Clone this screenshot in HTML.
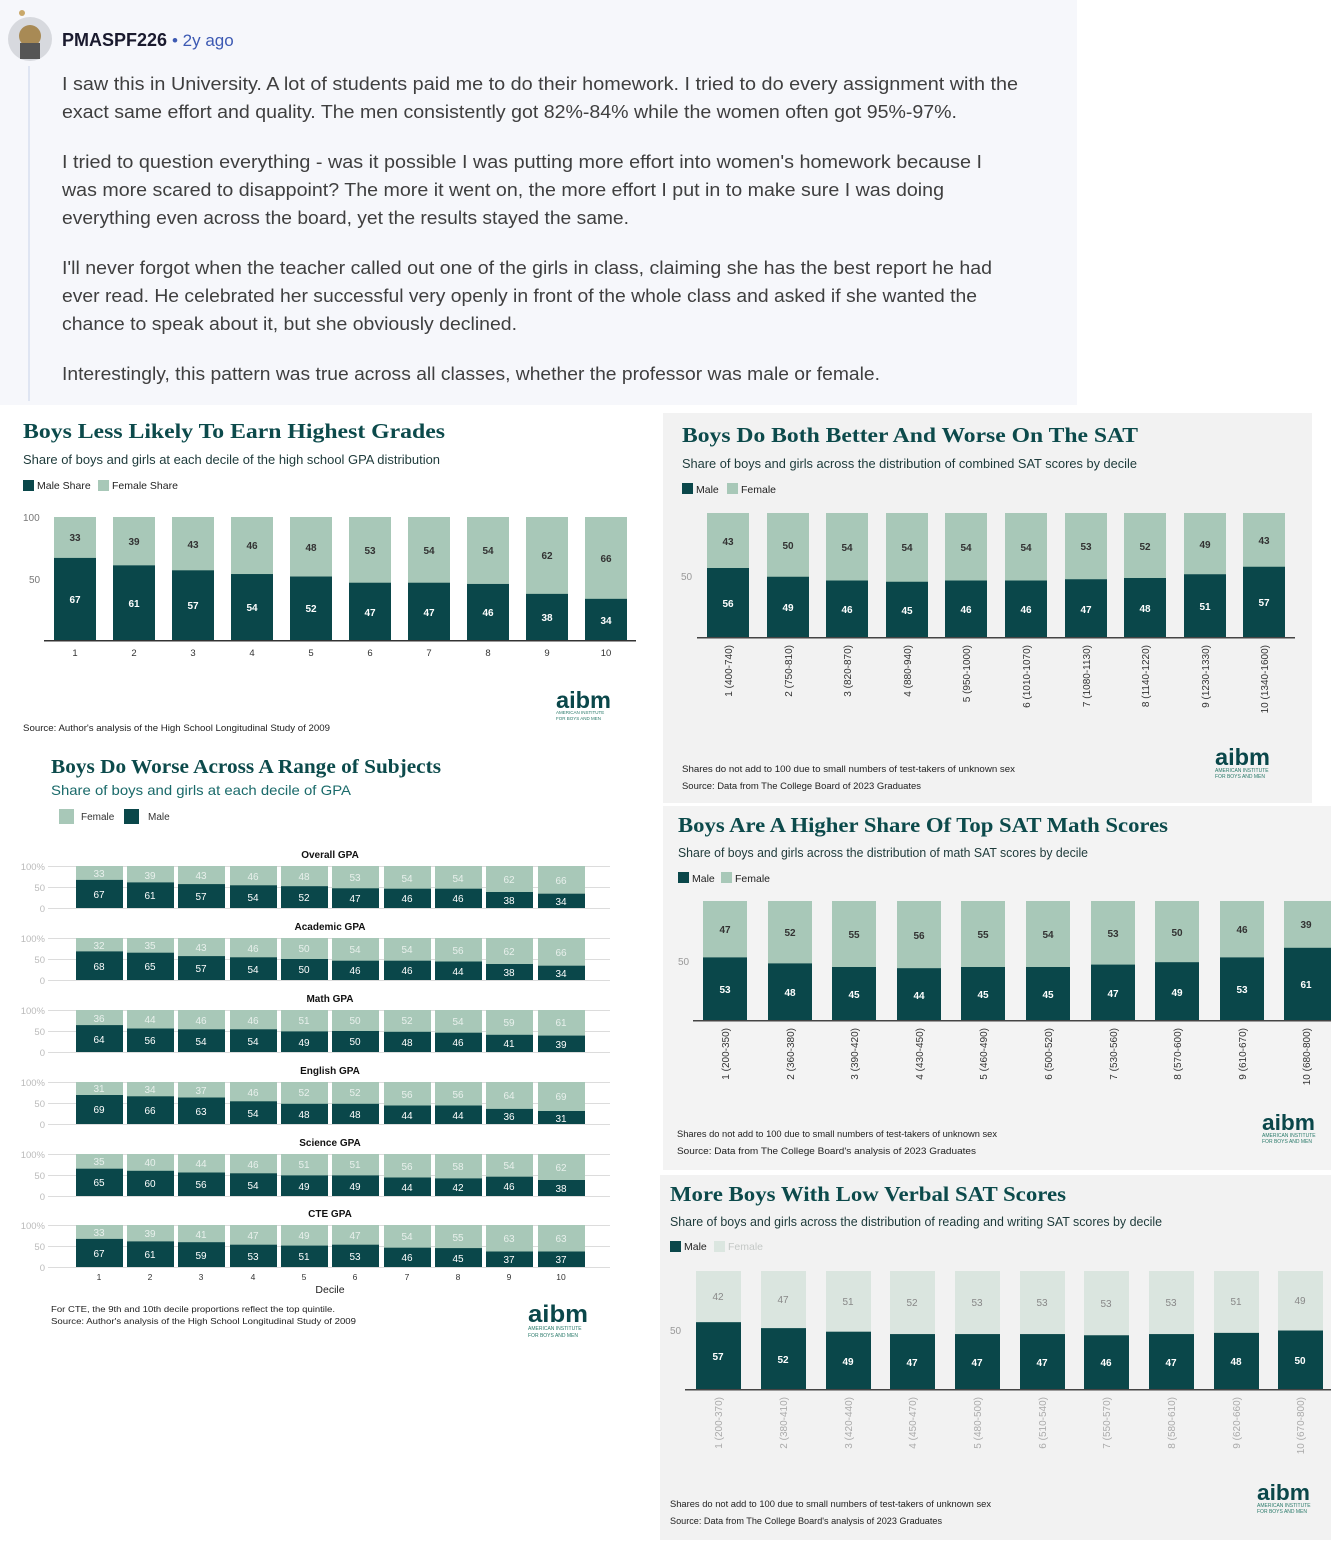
<!DOCTYPE html>
<html><head><meta charset="utf-8"><style>
html,body{margin:0;padding:0;background:#fff}
svg{display:block}
.s{font-family:"Liberation Sans",sans-serif}
.t{font-family:"Liberation Serif",serif;font-weight:bold;fill:#0c4a4b}
.w{fill:#fff}
</style></head><body>
<svg width="1331" height="1545" viewBox="0 0 1331 1545" xmlns="http://www.w3.org/2000/svg" class="s">
<rect x="0" y="0" width="1077" height="405" fill="#f6f7fb"/>
<circle cx="30" cy="39" r="22" fill="#d7d9de"/>
<circle cx="30" cy="36" r="11" fill="#a88a55"/>
<rect x="20" y="43" width="20" height="16" fill="#555"/>
<circle cx="22" cy="13" r="3" fill="#c9a86a"/>
<rect x="28" y="66" width="2" height="335" fill="#dfe5f2"/>
<text x="62" y="46" font-size="18" font-weight="bold" fill="#1a1a2e">PMASPF226</text>
<text x="172" y="46" font-size="17" fill="#3d5ab3">• 2y ago</text>
<g font-size="18.5" fill="#3f3f3f">
<text x="62" y="90" textLength="956" lengthAdjust="spacingAndGlyphs">I saw this in University. A lot of students paid me to do their homework. I tried to do every assignment with the</text>
<text x="62" y="118" textLength="895" lengthAdjust="spacingAndGlyphs">exact same effort and quality. The men consistently got 82%-84% while the women often got 95%-97%.</text>
<text x="62" y="168" textLength="920" lengthAdjust="spacingAndGlyphs">I tried to question everything - was it possible I was putting more effort into women's homework because I</text>
<text x="62" y="196" textLength="882" lengthAdjust="spacingAndGlyphs">was more scared to disappoint? The more it went on, the more effort I put in to make sure I was doing</text>
<text x="62" y="224" textLength="567" lengthAdjust="spacingAndGlyphs">everything even across the board, yet the results stayed the same.</text>
<text x="62" y="274" textLength="930" lengthAdjust="spacingAndGlyphs">I'll never forgot when the teacher called out one of the girls in class, claiming she has the best report he had</text>
<text x="62" y="302" textLength="915" lengthAdjust="spacingAndGlyphs">ever read. He celebrated her successful very openly in front of the whole class and asked if she wanted the</text>
<text x="62" y="330" textLength="455" lengthAdjust="spacingAndGlyphs">chance to speak about it, but she obviously declined.</text>
<text x="62" y="380" textLength="818" lengthAdjust="spacingAndGlyphs">Interestingly, this pattern was true across all classes, whether the professor was male or female.</text>
</g>

<text x="23" y="438" class="t" font-size="21" textLength="422" lengthAdjust="spacingAndGlyphs">Boys Less Likely To Earn Highest Grades</text>
<text x="23" y="464" font-size="12.5" fill="#1d3a3a" textLength="417" lengthAdjust="spacingAndGlyphs">Share of boys and girls at each decile of the high school GPA distribution</text>
<rect x="23" y="480" width="11" height="11" fill="#0a474a"/><text x="37" y="489" font-size="10.5" fill="#222">Male Share</text>
<rect x="98" y="480" width="11" height="11" fill="#a8c8b8"/><text x="112" y="489" font-size="10.5" fill="#222">Female Share</text>
<text x="23" y="521" font-size="10" fill="#777">100</text>
<text x="29" y="583" font-size="10" fill="#777">50</text>
<g transform="translate(0,641) scale(1,-1.24)">
<g fill="#a8c8b8"><rect x="54" y="0" width="42" height="100"/><rect x="113" y="0" width="42" height="100"/><rect x="172" y="0" width="42" height="100"/><rect x="231" y="0" width="42" height="100"/><rect x="290" y="0" width="42" height="100"/><rect x="349" y="0" width="42" height="100"/><rect x="408" y="0" width="42" height="100"/><rect x="467" y="0" width="42" height="100"/><rect x="526" y="0" width="42" height="100"/><rect x="585" y="0" width="42" height="100"/></g>
<g fill="#0a474a"><rect x="54" y="0" width="42" height="67"/><rect x="113" y="0" width="42" height="61"/><rect x="172" y="0" width="42" height="57"/><rect x="231" y="0" width="42" height="54"/><rect x="290" y="0" width="42" height="52"/><rect x="349" y="0" width="42" height="47"/><rect x="408" y="0" width="42" height="47"/><rect x="467" y="0" width="42" height="46"/><rect x="526" y="0" width="42" height="38"/><rect x="585" y="0" width="42" height="34"/></g>
</g>
<rect x="44" y="640" width="592" height="1.5" fill="#333"/>
<g font-size="10" font-weight="bold" text-anchor="middle" fill="#333">
<text x="75" y="541">33</text><text x="134" y="545">39</text><text x="193" y="548">43</text><text x="252" y="549">46</text><text x="311" y="551">48</text><text x="370" y="554">53</text><text x="429" y="554">54</text><text x="488" y="554">54</text><text x="547" y="559">62</text><text x="606" y="562">66</text>
</g>
<g font-size="10" font-weight="bold" text-anchor="middle" class="w">
<text x="75" y="603">67</text><text x="134" y="607">61</text><text x="193" y="609">57</text><text x="252" y="611">54</text><text x="311" y="612">52</text><text x="370" y="616">47</text><text x="429" y="616">47</text><text x="488" y="616">46</text><text x="547" y="621">38</text><text x="606" y="624">34</text>
</g>
<g font-size="9.5" text-anchor="middle" fill="#333">
<text x="75" y="656">1</text><text x="134" y="656">2</text><text x="193" y="656">3</text><text x="252" y="656">4</text><text x="311" y="656">5</text><text x="370" y="656">6</text><text x="429" y="656">7</text><text x="488" y="656">8</text><text x="547" y="656">9</text><text x="606" y="656">10</text>
</g>
<g transform="translate(556,708)"><text x="0" y="0" font-size="23" font-weight="bold" fill="#0a474a" textLength="55" lengthAdjust="spacingAndGlyphs">aibm</text><text x="0" y="6" font-size="4.5" fill="#2a7a6a">AMERICAN INSTITUTE</text><text x="0" y="12" font-size="4.5" fill="#2a7a6a">FOR BOYS AND MEN</text></g>
<text x="23" y="731" font-size="9" fill="#222" textLength="307" lengthAdjust="spacingAndGlyphs">Source: Author's analysis of the High School Longitudinal Study of 2009</text>

<text x="51" y="773" class="t" font-size="20" textLength="390" lengthAdjust="spacingAndGlyphs">Boys Do Worse Across A Range of Subjects</text>
<text x="51" y="795" font-size="14" fill="#1a6a6a" textLength="300" lengthAdjust="spacingAndGlyphs">Share of boys and girls at each decile of GPA</text>
<rect x="59" y="809" width="15" height="15" fill="#a8c8b8"/><text x="81" y="820" font-size="10" fill="#333">Female</text>
<rect x="124" y="809" width="15" height="15" fill="#0a474a"/><text x="148" y="820" font-size="10" fill="#333">Male</text>

<defs>
<g id="grid">
<rect x="48" y="0" width="562" height="1" fill="#dcdcdc"/><rect x="48" y="21" width="562" height="1" fill="#dcdcdc"/><rect x="48" y="42" width="562" height="1" fill="#dcdcdc"/>
<g fill="#a8c8b8"><rect x="76" y="0" width="47" height="42"/><rect x="127" y="0" width="47" height="42"/><rect x="178" y="0" width="47" height="42"/><rect x="230" y="0" width="47" height="42"/><rect x="281" y="0" width="47" height="42"/><rect x="332" y="0" width="47" height="42"/><rect x="384" y="0" width="47" height="42"/><rect x="435" y="0" width="47" height="42"/><rect x="486" y="0" width="47" height="42"/><rect x="538" y="0" width="47" height="42"/></g>
<g font-size="9.5" fill="#bbb" text-anchor="end"><text x="45" y="4">100%</text><text x="45" y="25">50</text><text x="45" y="46">0</text></g>
</g>
</defs>

<g transform="translate(0,866)">
<use href="#grid"/>
<text x="330" y="-8" font-size="10" font-weight="bold" text-anchor="middle" fill="#111">Overall GPA</text>
<g fill="#0a474a"><rect x="76" y="13.9" width="47" height="28.1"/><rect x="127" y="16.4" width="47" height="25.6"/><rect x="178" y="18.1" width="47" height="23.9"/><rect x="230" y="19.3" width="47" height="22.7"/><rect x="281" y="20.2" width="47" height="21.8"/><rect x="332" y="22.3" width="47" height="19.7"/><rect x="384" y="22.7" width="47" height="19.3"/><rect x="435" y="22.7" width="47" height="19.3"/><rect x="486" y="26" width="47" height="16"/><rect x="538" y="27.7" width="47" height="14.3"/></g>
<g font-size="10" text-anchor="middle" fill="#e8f0ec"><text x="99" y="11">33</text><text x="150" y="13">39</text><text x="201" y="13">43</text><text x="253" y="14">46</text><text x="304" y="14">48</text><text x="355" y="15">53</text><text x="407" y="16">54</text><text x="458" y="16">54</text><text x="509" y="17">62</text><text x="561" y="18">66</text></g>
<g font-size="10" text-anchor="middle" class="w"><text x="99" y="32">67</text><text x="150" y="33">61</text><text x="201" y="34">57</text><text x="253" y="35">54</text><text x="304" y="35">52</text><text x="355" y="36">47</text><text x="407" y="36">46</text><text x="458" y="36">46</text><text x="509" y="38">38</text><text x="561" y="39">34</text></g>
</g>
<g transform="translate(0,938)">
<use href="#grid"/>
<text x="330" y="-8" font-size="10" font-weight="bold" text-anchor="middle" fill="#111">Academic GPA</text>
<g fill="#0a474a"><rect x="76" y="13.4" width="47" height="28.6"/><rect x="127" y="14.7" width="47" height="27.3"/><rect x="178" y="18.1" width="47" height="23.9"/><rect x="230" y="19.3" width="47" height="22.7"/><rect x="281" y="21" width="47" height="21"/><rect x="332" y="22.7" width="47" height="19.3"/><rect x="384" y="22.7" width="47" height="19.3"/><rect x="435" y="23.5" width="47" height="18.5"/><rect x="486" y="26" width="47" height="16"/><rect x="538" y="27.7" width="47" height="14.3"/></g>
<g font-size="10" text-anchor="middle" fill="#e8f0ec"><text x="99" y="11">32</text><text x="150" y="11">35</text><text x="201" y="13">43</text><text x="253" y="14">46</text><text x="304" y="14">50</text><text x="355" y="15">54</text><text x="407" y="15">54</text><text x="458" y="16">56</text><text x="509" y="17">62</text><text x="561" y="18">66</text></g>
<g font-size="10" text-anchor="middle" class="w"><text x="99" y="32">68</text><text x="150" y="32">65</text><text x="201" y="34">57</text><text x="253" y="35">54</text><text x="304" y="35">50</text><text x="355" y="36">46</text><text x="407" y="36">46</text><text x="458" y="37">44</text><text x="509" y="38">38</text><text x="561" y="39">34</text></g>
</g>
<g transform="translate(0,1010)">
<use href="#grid"/>
<text x="330" y="-8" font-size="10" font-weight="bold" text-anchor="middle" fill="#111">Math GPA</text>
<g fill="#0a474a"><rect x="76" y="15.1" width="47" height="26.9"/><rect x="127" y="18.5" width="47" height="23.5"/><rect x="178" y="19.3" width="47" height="22.7"/><rect x="230" y="19.3" width="47" height="22.7"/><rect x="281" y="21.4" width="47" height="20.6"/><rect x="332" y="21" width="47" height="21"/><rect x="384" y="21.8" width="47" height="20.2"/><rect x="435" y="22.7" width="47" height="19.3"/><rect x="486" y="24.8" width="47" height="17.2"/><rect x="538" y="25.6" width="47" height="16.4"/></g>
<g font-size="10" text-anchor="middle" fill="#e8f0ec"><text x="99" y="12">36</text><text x="150" y="13">44</text><text x="201" y="14">46</text><text x="253" y="14">46</text><text x="304" y="14">51</text><text x="355" y="14">50</text><text x="407" y="14">52</text><text x="458" y="15">54</text><text x="509" y="16">59</text><text x="561" y="16">61</text></g>
<g font-size="10" text-anchor="middle" class="w"><text x="99" y="33">64</text><text x="150" y="34">56</text><text x="201" y="35">54</text><text x="253" y="35">54</text><text x="304" y="36">49</text><text x="355" y="35">50</text><text x="407" y="36">48</text><text x="458" y="36">46</text><text x="509" y="37">41</text><text x="561" y="38">39</text></g>
</g>
<g transform="translate(0,1082)">
<use href="#grid"/>
<text x="330" y="-8" font-size="10" font-weight="bold" text-anchor="middle" fill="#111">English GPA</text>
<g fill="#0a474a"><rect x="76" y="13" width="47" height="29"/><rect x="127" y="14.3" width="47" height="27.7"/><rect x="178" y="15.5" width="47" height="26.5"/><rect x="230" y="19.3" width="47" height="22.7"/><rect x="281" y="21.8" width="47" height="20.2"/><rect x="332" y="21.8" width="47" height="20.2"/><rect x="384" y="23.5" width="47" height="18.5"/><rect x="435" y="23.5" width="47" height="18.5"/><rect x="486" y="26.9" width="47" height="15.1"/><rect x="538" y="29" width="47" height="13"/></g>
<g font-size="10" text-anchor="middle" fill="#e8f0ec"><text x="99" y="10">31</text><text x="150" y="11">34</text><text x="201" y="12">37</text><text x="253" y="14">46</text><text x="304" y="14">52</text><text x="355" y="14">52</text><text x="407" y="16">56</text><text x="458" y="16">56</text><text x="509" y="17">64</text><text x="561" y="18">69</text></g>
<g font-size="10" text-anchor="middle" class="w"><text x="99" y="31">69</text><text x="150" y="32">66</text><text x="201" y="33">63</text><text x="253" y="35">54</text><text x="304" y="36">48</text><text x="355" y="36">48</text><text x="407" y="37">44</text><text x="458" y="37">44</text><text x="509" y="38">36</text><text x="561" y="40">31</text></g>
</g>
<g transform="translate(0,1154)">
<use href="#grid"/>
<text x="330" y="-8" font-size="10" font-weight="bold" text-anchor="middle" fill="#111">Science GPA</text>
<g fill="#0a474a"><rect x="76" y="14.7" width="47" height="27.3"/><rect x="127" y="16.8" width="47" height="25.2"/><rect x="178" y="18.5" width="47" height="23.5"/><rect x="230" y="19.3" width="47" height="22.7"/><rect x="281" y="21.4" width="47" height="20.6"/><rect x="332" y="21.4" width="47" height="20.6"/><rect x="384" y="23.5" width="47" height="18.5"/><rect x="435" y="24.4" width="47" height="17.6"/><rect x="486" y="22.7" width="47" height="19.3"/><rect x="538" y="26" width="47" height="16"/></g>
<g font-size="10" text-anchor="middle" fill="#e8f0ec"><text x="99" y="11">35</text><text x="150" y="12">40</text><text x="201" y="13">44</text><text x="253" y="14">46</text><text x="304" y="14">51</text><text x="355" y="14">51</text><text x="407" y="16">56</text><text x="458" y="16">58</text><text x="509" y="15">54</text><text x="561" y="17">62</text></g>
<g font-size="10" text-anchor="middle" class="w"><text x="99" y="32">65</text><text x="150" y="33">60</text><text x="201" y="34">56</text><text x="253" y="35">54</text><text x="304" y="36">49</text><text x="355" y="36">49</text><text x="407" y="37">44</text><text x="458" y="37">42</text><text x="509" y="36">46</text><text x="561" y="38">38</text></g>
</g>
<g transform="translate(0,1225)">
<use href="#grid"/>
<text x="330" y="-8" font-size="10" font-weight="bold" text-anchor="middle" fill="#111">CTE GPA</text>
<g fill="#0a474a"><rect x="76" y="13.9" width="47" height="28.1"/><rect x="127" y="16.4" width="47" height="25.6"/><rect x="178" y="17.2" width="47" height="24.8"/><rect x="230" y="19.7" width="47" height="22.3"/><rect x="281" y="20.6" width="47" height="21.4"/><rect x="332" y="19.7" width="47" height="22.3"/><rect x="384" y="22.7" width="47" height="19.3"/><rect x="435" y="23.1" width="47" height="18.9"/><rect x="486" y="26.5" width="47" height="15.5"/><rect x="538" y="26.5" width="47" height="15.5"/></g>
<g font-size="10" text-anchor="middle" fill="#e8f0ec"><text x="99" y="11">33</text><text x="150" y="12">39</text><text x="201" y="13">41</text><text x="253" y="14">47</text><text x="304" y="14">49</text><text x="355" y="14">47</text><text x="407" y="15">54</text><text x="458" y="16">55</text><text x="509" y="17">63</text><text x="561" y="17">63</text></g>
<g font-size="10" text-anchor="middle" class="w"><text x="99" y="32">67</text><text x="150" y="33">61</text><text x="201" y="34">59</text><text x="253" y="35">53</text><text x="304" y="35">51</text><text x="355" y="35">53</text><text x="407" y="36">46</text><text x="458" y="37">45</text><text x="509" y="38">37</text><text x="561" y="38">37</text></g>
</g>
<g font-size="8.5" text-anchor="middle" fill="#333">
<text x="99" y="1280">1</text><text x="150" y="1280">2</text><text x="201" y="1280">3</text><text x="253" y="1280">4</text><text x="304" y="1280">5</text><text x="355" y="1280">6</text><text x="407" y="1280">7</text><text x="458" y="1280">8</text><text x="509" y="1280">9</text><text x="561" y="1280">10</text>
</g>
<text x="330" y="1293" font-size="10.5" text-anchor="middle" fill="#222">Decile</text>
<text x="51" y="1312" font-size="8.5" fill="#222" textLength="284" lengthAdjust="spacingAndGlyphs">For CTE, the 9th and 10th decile proportions reflect the top quintile.</text>
<text x="51" y="1324" font-size="8.5" fill="#222" textLength="305" lengthAdjust="spacingAndGlyphs">Source: Author's analysis of the High School Longitudinal Study of 2009</text>
<g transform="translate(528,1322)"><text x="0" y="0" font-size="24" font-weight="bold" fill="#0a474a" textLength="60" lengthAdjust="spacingAndGlyphs">aibm</text><text x="0" y="8" font-size="5" fill="#2a7a6a">AMERICAN INSTITUTE</text><text x="0" y="15" font-size="5" fill="#2a7a6a">FOR BOYS AND MEN</text></g>

<rect x="663" y="413" width="649" height="390" fill="#f2f2f2"/>
<text x="682" y="442" class="t" font-size="21" textLength="456" lengthAdjust="spacingAndGlyphs">Boys Do Both Better And Worse On The SAT</text>
<text x="682" y="468" font-size="12.5" fill="#1d3a3a" textLength="455" lengthAdjust="spacingAndGlyphs">Share of boys and girls across the distribution of combined SAT scores by decile</text>
<rect x="682" y="483" width="11" height="11" fill="#0a474a"/><text x="696" y="493" font-size="10.5" fill="#222">Male</text>
<rect x="727" y="483" width="11" height="11" fill="#a8c8b8"/><text x="741" y="493" font-size="10.5" fill="#222">Female</text>
<text x="681" y="580" font-size="10" fill="#999">50</text>
<g transform="translate(0,638) scale(1,-1.25)">
<g fill="#a8c8b8"><rect x="707" y="0" width="42" height="100"/><rect x="767" y="0" width="42" height="100"/><rect x="826" y="0" width="42" height="100"/><rect x="886" y="0" width="42" height="100"/><rect x="945" y="0" width="42" height="100"/><rect x="1005" y="0" width="42" height="100"/><rect x="1065" y="0" width="42" height="100"/><rect x="1124" y="0" width="42" height="100"/><rect x="1184" y="0" width="42" height="100"/><rect x="1243" y="0" width="42" height="100"/></g>
<g fill="#0a474a"><rect x="707" y="0" width="42" height="56"/><rect x="767" y="0" width="42" height="49"/><rect x="826" y="0" width="42" height="46"/><rect x="886" y="0" width="42" height="45"/><rect x="945" y="0" width="42" height="46"/><rect x="1005" y="0" width="42" height="46"/><rect x="1065" y="0" width="42" height="47"/><rect x="1124" y="0" width="42" height="48"/><rect x="1184" y="0" width="42" height="51"/><rect x="1243" y="0" width="42" height="57"/></g>
</g>
<rect x="697" y="637" width="598" height="1.5" fill="#444"/>
<g font-size="10" font-weight="bold" text-anchor="middle" fill="#333">
<text x="728" y="545">43</text><text x="788" y="549">50</text><text x="847" y="551">54</text><text x="907" y="551">54</text><text x="966" y="551">54</text><text x="1026" y="551">54</text><text x="1086" y="550">53</text><text x="1145" y="550">52</text><text x="1205" y="548">49</text><text x="1264" y="544">43</text>
</g>
<g font-size="10" font-weight="bold" text-anchor="middle" class="w">
<text x="728" y="607">56</text><text x="788" y="611">49</text><text x="847" y="613">46</text><text x="907" y="614">45</text><text x="966" y="613">46</text><text x="1026" y="613">46</text><text x="1086" y="613">47</text><text x="1145" y="612">48</text><text x="1205" y="610">51</text><text x="1264" y="606">57</text>
</g>
<g font-size="10" fill="#333" text-anchor="end">
<text transform="translate(732,645) rotate(-90)">1 (400-740)</text><text transform="translate(792,645) rotate(-90)">2 (750-810)</text><text transform="translate(851,645) rotate(-90)">3 (820-870)</text><text transform="translate(911,645) rotate(-90)">4 (880-940)</text><text transform="translate(970,645) rotate(-90)">5 (950-1000)</text><text transform="translate(1030,645) rotate(-90)">6 (1010-1070)</text><text transform="translate(1090,645) rotate(-90)">7 (1080-1130)</text><text transform="translate(1149,645) rotate(-90)">8 (1140-1220)</text><text transform="translate(1209,645) rotate(-90)">9 (1230-1330)</text><text transform="translate(1268,645) rotate(-90)">10 (1340-1600)</text>
</g>
<text x="682" y="772" font-size="9" fill="#222" textLength="333" lengthAdjust="spacingAndGlyphs">Shares do not add to 100 due to small numbers of test-takers of unknown sex</text>
<text x="682" y="789" font-size="9" fill="#222" textLength="239" lengthAdjust="spacingAndGlyphs">Source: Data from The College Board of 2023 Graduates</text>
<g transform="translate(1215,765)"><text x="0" y="0" font-size="23" font-weight="bold" fill="#0a474a" textLength="55" lengthAdjust="spacingAndGlyphs">aibm</text><text x="0" y="7" font-size="5" fill="#2a7a6a">AMERICAN INSTITUTE</text><text x="0" y="13" font-size="5" fill="#2a7a6a">FOR BOYS AND MEN</text></g>

<rect x="663" y="806" width="668" height="364" fill="#f3f3f3"/>
<text x="678" y="832" class="t" font-size="21" textLength="490" lengthAdjust="spacingAndGlyphs">Boys Are A Higher Share Of Top SAT Math Scores</text>
<text x="678" y="857" font-size="12.5" fill="#1d3a3a" textLength="410" lengthAdjust="spacingAndGlyphs">Share of boys and girls across the distribution of math SAT scores by decile</text>
<rect x="678" y="872" width="11" height="11" fill="#0a474a"/><text x="692" y="882" font-size="10.5" fill="#222">Male</text>
<rect x="721" y="872" width="11" height="11" fill="#a8c8b8"/><text x="735" y="882" font-size="10.5" fill="#222">Female</text>
<text x="678" y="965" font-size="10" fill="#999">50</text>
<g transform="translate(0,1021) scale(1,-1.2)">
<g fill="#a8c8b8"><rect x="703" y="0" width="44" height="100"/><rect x="768" y="0" width="44" height="100"/><rect x="832" y="0" width="44" height="100"/><rect x="897" y="0" width="44" height="100"/><rect x="961" y="0" width="44" height="100"/><rect x="1026" y="0" width="44" height="100"/><rect x="1091" y="0" width="44" height="100"/><rect x="1155" y="0" width="44" height="100"/><rect x="1220" y="0" width="44" height="100"/><rect x="1284" y="0" width="47" height="100"/></g>
<g fill="#0a474a"><rect x="703" y="0" width="44" height="53"/><rect x="768" y="0" width="44" height="48"/><rect x="832" y="0" width="44" height="45"/><rect x="897" y="0" width="44" height="44"/><rect x="961" y="0" width="44" height="45"/><rect x="1026" y="0" width="44" height="45"/><rect x="1091" y="0" width="44" height="47"/><rect x="1155" y="0" width="44" height="49"/><rect x="1220" y="0" width="44" height="53"/><rect x="1284" y="0" width="47" height="61"/></g>
</g>
<rect x="693" y="1020" width="638" height="1.5" fill="#444"/>
<g font-size="10" font-weight="bold" text-anchor="middle" fill="#333">
<text x="725" y="933">47</text><text x="790" y="936">52</text><text x="854" y="938">55</text><text x="919" y="939">56</text><text x="983" y="938">55</text><text x="1048" y="938">54</text><text x="1113" y="937">53</text><text x="1177" y="936">50</text><text x="1242" y="933">46</text><text x="1306" y="928">39</text>
</g>
<g font-size="10" font-weight="bold" text-anchor="middle" class="w">
<text x="725" y="993">53</text><text x="790" y="996">48</text><text x="854" y="998">45</text><text x="919" y="999">44</text><text x="983" y="998">45</text><text x="1048" y="998">45</text><text x="1113" y="997">47</text><text x="1177" y="996">49</text><text x="1242" y="993">53</text><text x="1306" y="988">61</text>
</g>
<g font-size="10" fill="#333" text-anchor="end">
<text transform="translate(729,1028) rotate(-90)">1 (200-350)</text><text transform="translate(794,1028) rotate(-90)">2 (360-380)</text><text transform="translate(858,1028) rotate(-90)">3 (390-420)</text><text transform="translate(923,1028) rotate(-90)">4 (430-450)</text><text transform="translate(987,1028) rotate(-90)">5 (460-490)</text><text transform="translate(1052,1028) rotate(-90)">6 (500-520)</text><text transform="translate(1117,1028) rotate(-90)">7 (530-560)</text><text transform="translate(1181,1028) rotate(-90)">8 (570-600)</text><text transform="translate(1246,1028) rotate(-90)">9 (610-670)</text><text transform="translate(1310,1028) rotate(-90)">10 (680-800)</text>
</g>
<text x="677" y="1137" font-size="9" fill="#222" textLength="320" lengthAdjust="spacingAndGlyphs">Shares do not add to 100 due to small numbers of test-takers of unknown sex</text>
<text x="677" y="1154" font-size="9" fill="#222" textLength="299" lengthAdjust="spacingAndGlyphs">Source: Data from The College Board's analysis of 2023 Graduates</text>
<g transform="translate(1262,1130)"><text x="0" y="0" font-size="22" font-weight="bold" fill="#0a474a" textLength="53" lengthAdjust="spacingAndGlyphs">aibm</text><text x="0" y="7" font-size="5" fill="#2a7a6a">AMERICAN INSTITUTE</text><text x="0" y="13" font-size="5" fill="#2a7a6a">FOR BOYS AND MEN</text></g>

<rect x="660" y="1175" width="671" height="365" fill="#f2f2f2"/>
<text x="670" y="1201" class="t" font-size="21" textLength="396" lengthAdjust="spacingAndGlyphs">More Boys With Low Verbal SAT Scores</text>
<text x="670" y="1226" font-size="12.5" fill="#1d3a3a" textLength="492" lengthAdjust="spacingAndGlyphs">Share of boys and girls across the distribution of reading and writing SAT scores by decile</text>
<rect x="670" y="1241" width="11" height="11" fill="#0a474a"/><text x="684" y="1250" font-size="10.5" fill="#222">Male</text>
<rect x="714" y="1241" width="11" height="11" fill="#dbe6e0"/><text x="728" y="1250" font-size="10.5" fill="#c4c8c6">Female</text>
<text x="670" y="1334" font-size="10" fill="#999">50</text>
<g transform="translate(0,1390) scale(1,-1.19)">
<g fill="#dae5df"><rect x="696" y="0" width="45" height="100"/><rect x="761" y="0" width="45" height="100"/><rect x="826" y="0" width="45" height="100"/><rect x="890" y="0" width="45" height="100"/><rect x="955" y="0" width="45" height="100"/><rect x="1020" y="0" width="45" height="100"/><rect x="1084" y="0" width="45" height="100"/><rect x="1149" y="0" width="45" height="100"/><rect x="1214" y="0" width="45" height="100"/><rect x="1278" y="0" width="45" height="100"/></g>
<g fill="#0a474a"><rect x="696" y="0" width="45" height="57"/><rect x="761" y="0" width="45" height="52"/><rect x="826" y="0" width="45" height="49"/><rect x="890" y="0" width="45" height="47"/><rect x="955" y="0" width="45" height="47"/><rect x="1020" y="0" width="45" height="47"/><rect x="1084" y="0" width="45" height="46"/><rect x="1149" y="0" width="45" height="47"/><rect x="1214" y="0" width="45" height="48"/><rect x="1278" y="0" width="45" height="50"/></g>
</g>
<rect x="685" y="1389" width="646" height="1.5" fill="#444"/>
<g font-size="10" text-anchor="middle" fill="#888">
<text x="718" y="1300">42</text><text x="783" y="1303">47</text><text x="848" y="1305">51</text><text x="912" y="1306">52</text><text x="977" y="1306">53</text><text x="1042" y="1306">53</text><text x="1106" y="1307">53</text><text x="1171" y="1306">53</text><text x="1236" y="1305">51</text><text x="1300" y="1304">49</text>
</g>
<g font-size="10" font-weight="bold" text-anchor="middle" class="w">
<text x="718" y="1360">57</text><text x="783" y="1363">52</text><text x="848" y="1365">49</text><text x="912" y="1366">47</text><text x="977" y="1366">47</text><text x="1042" y="1366">47</text><text x="1106" y="1366">46</text><text x="1171" y="1366">47</text><text x="1236" y="1365">48</text><text x="1300" y="1364">50</text>
</g>
<g font-size="10" fill="#aaa" text-anchor="end">
<text transform="translate(722,1397) rotate(-90)">1 (200-370)</text><text transform="translate(787,1397) rotate(-90)">2 (380-410)</text><text transform="translate(852,1397) rotate(-90)">3 (420-440)</text><text transform="translate(916,1397) rotate(-90)">4 (450-470)</text><text transform="translate(981,1397) rotate(-90)">5 (480-500)</text><text transform="translate(1046,1397) rotate(-90)">6 (510-540)</text><text transform="translate(1110,1397) rotate(-90)">7 (550-570)</text><text transform="translate(1175,1397) rotate(-90)">8 (580-610)</text><text transform="translate(1240,1397) rotate(-90)">9 (620-660)</text><text transform="translate(1304,1397) rotate(-90)">10 (670-800)</text>
</g>
<text x="670" y="1507" font-size="9" fill="#222" textLength="321" lengthAdjust="spacingAndGlyphs">Shares do not add to 100 due to small numbers of test-takers of unknown sex</text>
<text x="670" y="1524" font-size="9" fill="#222" textLength="272" lengthAdjust="spacingAndGlyphs">Source: Data from The College Board's analysis of 2023 Graduates</text>
<g transform="translate(1257,1500)"><text x="0" y="0" font-size="22" font-weight="bold" fill="#0a474a" textLength="53" lengthAdjust="spacingAndGlyphs">aibm</text><text x="0" y="7" font-size="5" fill="#2a7a6a">AMERICAN INSTITUTE</text><text x="0" y="13" font-size="5" fill="#2a7a6a">FOR BOYS AND MEN</text></g>
</svg>
</body></html>
